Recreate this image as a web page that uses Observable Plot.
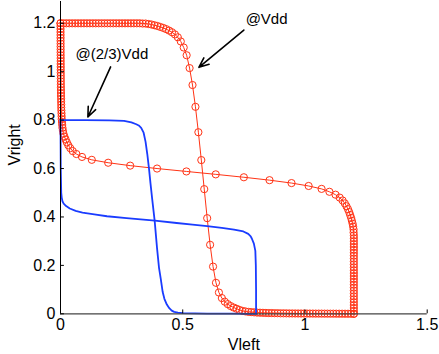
<!DOCTYPE html>
<html>
<head>
<meta charset="utf-8">
<script src="https://cdn.jsdelivr.net/npm/d3@7"></script>
<script src="https://cdn.jsdelivr.net/npm/@observablehq/plot@0.6"></script>
<style>
  html, body { margin: 0; padding: 0; background: #fff; }
  #chart svg { display: block; }
</style>
</head>
<body>
<div id="chart"></div>
<script>
// Inverter transfer curve swept at full supply (1.2 V): input sweep and output
const vinVdd = [0, 0.012, 0.024, 0.036, 0.048, 0.06, 0.072, 0.084, 0.096, 0.108,
  0.12, 0.132, 0.144, 0.156, 0.168, 0.18, 0.192, 0.204, 0.216, 0.228,
  0.24, 0.252, 0.264, 0.276, 0.288, 0.3, 0.312, 0.324, 0.336, 0.348,
  0.36, 0.372, 0.384, 0.396, 0.408, 0.42, 0.432, 0.444, 0.456, 0.468,
  0.48, 0.492, 0.504, 0.516, 0.528, 0.54, 0.552, 0.564, 0.576, 0.588,
  0.6, 0.612, 0.624, 0.636, 0.648, 0.66, 0.672, 0.684, 0.696, 0.708,
  0.72, 0.732, 0.744, 0.756, 0.768, 0.78, 0.792, 0.804, 0.816, 0.828,
  0.84, 0.852, 0.864, 0.876, 0.888, 0.9, 0.912, 0.924, 0.936, 0.948,
  0.96, 0.972, 0.984, 0.996, 1.008, 1.02, 1.032, 1.044, 1.056, 1.068,
  1.08, 1.092, 1.104, 1.116, 1.128, 1.14, 1.152, 1.164, 1.176, 1.188, 1.2];
const voutVdd = [1.2, 1.2, 1.2, 1.2, 1.2, 1.2, 1.2, 1.2, 1.2, 1.2,
  1.2, 1.2, 1.2, 1.2, 1.2, 1.2, 1.2, 1.2, 1.2, 1.2,
  1.2, 1.2, 1.2, 1.2, 1.2, 1.2, 1.2, 1.2, 1.199, 1.199,
  1.197, 1.195, 1.192, 1.189, 1.185, 1.181, 1.176, 1.170, 1.163, 1.154,
  1.142, 1.125, 1.100, 1.068, 1.015, 0.945, 0.855, 0.750, 0.635, 0.515,
  0.395, 0.285, 0.195, 0.128, 0.088, 0.065, 0.050, 0.040, 0.032, 0.026,
  0.021, 0.016, 0.012, 0.010, 0.008, 0.007, 0.006, 0.005, 0.0045, 0.004,
  0.0035, 0.003, 0.003, 0.0025, 0.0025, 0.002, 0.002, 0.0018, 0.0016, 0.0015,
  0.0014, 0.0013, 0.0012, 0.0011, 0.001, 0.001, 0.0009, 0.0008, 0.0008, 0.0007,
  0.0006, 0.0006, 0.0005, 0.0005, 0.0004, 0.0003, 0.0003, 0.0002, 0.0002, 0.0001, 0];

// Same inverter at two-thirds supply (0.8 V)
const vinLow = [0, 0.1, 0.2, 0.26, 0.29, 0.31, 0.32, 0.33, 0.34, 0.348,
  0.355, 0.362, 0.368, 0.375, 0.385, 0.395, 0.403, 0.41, 0.418, 0.425,
  0.435, 0.445, 0.455, 0.465, 0.48, 0.5, 0.6, 0.7, 0.8];
const voutLow = [0.8, 0.8, 0.799, 0.797, 0.791, 0.783, 0.778, 0.768, 0.748, 0.71,
  0.66, 0.6, 0.54, 0.475, 0.386, 0.27, 0.19, 0.145, 0.09, 0.062,
  0.038, 0.023, 0.013, 0.008, 0.005, 0.003, 0.001, 0.0005, 0];

const xTicks = [0, 0.5, 1, 1.5];
const yTicks = [0, 0.2, 0.4, 0.6, 0.8, 1, 1.2];

const RED = "#ff3315";
const BLUE = "#1a3cff";

// Butterfly: each curve plus its mirror about the diagonal
const fwdVdd = vinVdd.map((v, i) => ({left: v, right: voutVdd[i]}));
const revVdd = vinVdd.map((v, i) => ({left: voutVdd[i], right: v}));
const fwdLow = vinLow.map((v, i) => ({left: v, right: voutLow[i]}));
const revLow = vinLow.map((v, i) => ({left: voutLow[i], right: v}));

const fmt = d => `${d}`;

const chart = Plot.plot({
  width: 439,
  height: 354,
  marginLeft: 60,
  marginRight: 12.3,
  marginTop: 1,
  marginBottom: 40.7,
  x: {domain: [0, 1.5]},
  y: {domain: [0, 1.29]},
  style: {
    fontFamily: "'Liberation Sans', Arial, Helvetica, sans-serif",
    fontSize: "16px",
    color: "#000",
    background: "#fff"
  },
  marks: [
    Plot.line(fwdVdd, {x: "left", y: "right", stroke: RED, strokeWidth: 1}),
    Plot.dot(fwdVdd, {x: "left", y: "right", r: 3.6, stroke: RED, strokeWidth: 1, fill: "none"}),
    Plot.line(revVdd, {x: "left", y: "right", stroke: RED, strokeWidth: 1}),
    Plot.dot(revVdd, {x: "left", y: "right", r: 3.6, stroke: RED, strokeWidth: 1, fill: "none"}),
    Plot.line(fwdLow, {x: "left", y: "right", stroke: BLUE, strokeWidth: 1.8}),
    Plot.line(revLow, {x: "left", y: "right", stroke: BLUE, strokeWidth: 1.8}),

    // axis lines with inward ticks
    Plot.ruleX([0], {stroke: "#000", strokeWidth: 1}),
    Plot.ruleY([0], {stroke: "#444", strokeWidth: 1.2}),
    Plot.ruleX(xTicks, {y1: 0, y2: 0.016, stroke: "#000", strokeWidth: 1}),
    Plot.ruleY(yTicks, {x1: 0, x2: 0.016, stroke: "#000", strokeWidth: 1}),
    Plot.axisX({ticks: xTicks, tickSize: 0, tickPadding: 5, tickFormat: fmt, label: null, fontSize: 16}),
    Plot.axisY({ticks: yTicks, tickSize: 0, tickPadding: 5, tickFormat: fmt, label: null, fontSize: 16}),

    // axis titles
    Plot.text(["Vleft"], {x: 0.75, y: 0, dy: 31.5, text: d => d, fontSize: 16, lineAnchor: "middle"}),
    Plot.text(["Vright"], {x: 0, y: 0.698, dx: -46, text: d => d, fontSize: 16, rotate: -90, lineAnchor: "middle"}),

    // annotations
    Plot.arrow([{x1: 0.75, y1: 1.172, x2: 0.566, y2: 1.018}],
      {x1: "x1", y1: "y1", x2: "x2", y2: "y2", stroke: "#000", strokeWidth: 1.6, headLength: 10, headAngle: 45}),
    Plot.arrow([{x1: 0.205, y1: 1.02, x2: 0.112, y2: 0.813}],
      {x1: "x1", y1: "y1", x2: "x2", y2: "y2", stroke: "#000", strokeWidth: 1.6, headLength: 10, headAngle: 45}),
    Plot.text(["@Vdd"], {x: 0.843, y: 1.218, text: d => d, fontSize: 15, lineAnchor: "middle"}),
    Plot.text(["@(2/3)Vdd"], {x: 0.21, y: 1.073, text: d => d, fontSize: 15, lineAnchor: "middle"})
  ]
});

document.getElementById("chart").appendChild(chart);
</script>
</body>
</html>
